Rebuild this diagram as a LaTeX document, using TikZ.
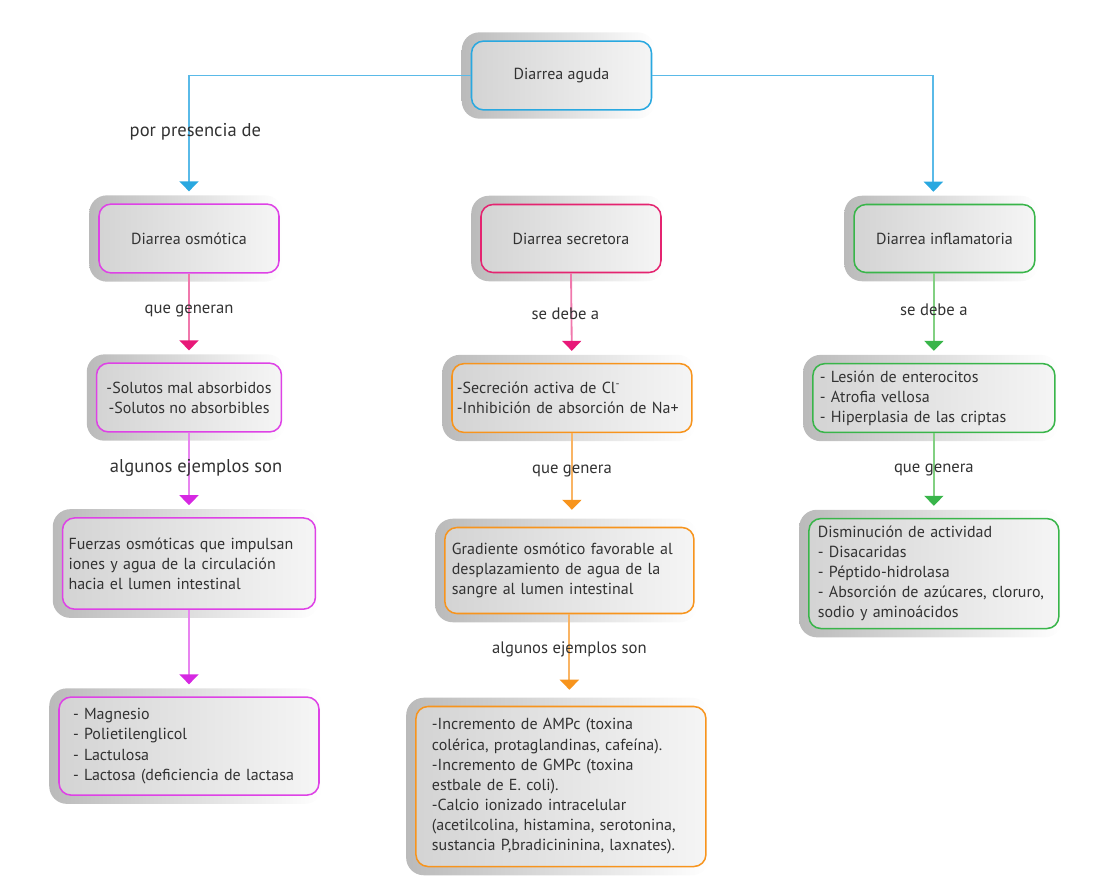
\documentclass[tikz,border=0pt]{standalone}
\usepackage{fontspec}
\setmainfont{PT Sans}
\usepackage{tikz}
\usetikzlibrary{arrows.meta,backgrounds,calc}

\definecolor{txtgray}{RGB}{50,50,50}
\definecolor{aguablue}{RGB}{41,168,224}
\definecolor{lineblue}{RGB}{90,186,232}
\definecolor{osmmag}{RGB}{222,66,230}
\definecolor{linemag}{RGB}{232,132,240}
\definecolor{tipmag}{RGB}{214,40,226}
\definecolor{secpink}{RGB}{228,36,112}
\definecolor{linepink}{RGB}{240,120,172}
\definecolor{tippink}{RGB}{232,24,120}
\definecolor{orng}{RGB}{247,148,29}
\definecolor{lineorng}{RGB}{249,180,100}
\definecolor{grn}{RGB}{57,181,74}
\definecolor{linegrn}{RGB}{130,208,130}

\tikzstyle{block} = [draw, rounded corners=7.5pt, line width=0.95pt,
    left color=black!17, right color=black!4, text=txtgray,
    font=\fontsize{10}{12.6}\selectfont, inner ysep=0pt]
\tikzstyle{shadowbox} = [rounded corners=11pt, left color=black!27, right color=white]
\tikzstyle{link} = [line width=1.15pt, shorten >=7.5pt]
\tikzstyle{lbl} = [text=txtgray, font=\fontsize{10.4}{12.6}\selectfont]
\tikzstyle{biglbl} = [text=txtgray, font=\fontsize{11.6}{13}\selectfont]
\tikzset{headto/.style={-{Triangle[width=11.9pt,length=6.25pt,color=#1]}}}

\begin{document}
\begin{tikzpicture}[x=0.625pt, y=-0.625pt]
    \useasboundingbox (0,0) rectangle (1118,893);

    % % % % % % % % % % % % % % % % % % % % % % %
    % Main boxes
    % % % % % % % % % % % % % % % % % % % % % % %
    \node [block, draw=aguablue, minimum width=112.5pt, minimum height=43pt] (aguda) at (561.5,75.5) {Diarrea aguda};

    % first row
    \node [block, draw=osmmag, minimum width=112.5pt, minimum height=43pt] (osmo) at (189,238.5) {Diarrea osmótica};
    \node [block, draw=secpink, minimum width=112.5pt, minimum height=42.5pt,
        right of=osmo, node distance=238.75pt] (secr) {Diarrea secretora};
    \node [block, draw=grn, minimum width=113pt, minimum height=42.5pt,
        right of=secr, node distance=233.4pt] (inflam) {Diarrea inflamatoria};

    % osmotic column
    \node [block, draw=osmmag, minimum width=115.6pt, minimum height=43pt, align=center,
        below of=osmo, node distance=99.4pt] (solutos)
        {-Solutos mal absorbidos\\-Solutos no absorbibles};
    \node [block, draw=osmmag, text width=150.6pt, inner xsep=3.75pt, minimum height=57pt, align=left,
        below of=solutos, node distance=103.75pt] (fuerzas)
        {Fuerzas osmóticas que impulsan\\iones y agua de la circulación\\hacia el lumen intestinal};
    \node [block, draw=osmmag, text width=145pt, inner xsep=8.75pt, minimum height=61.25pt, align=left,
        below of=fuerzas, node distance=114.1pt] (magnesio)
        {- Magnesio\\- Polietilenglicol\\- Lactulosa\\- Lactosa (deficiencia de lactasa};

    % secretory column
    \node [block, draw=orng, text width=143.75pt, inner xsep=3.1pt, minimum height=43pt, align=left,
        below of=secr, node distance=99.7pt, xshift=0.6pt] (secact)
        {-Secreción activa de Cl\textsuperscript{-}\\-Inhibición de absorción de Na+};
    \node [block, draw=orng, text width=146.9pt, inner xsep=4.4pt, minimum height=53.75pt, align=left,
        below of=secact, node distance=107.8pt, xshift=-1.6pt] (gradiente)
        {Gradiente osmótico favorable al\\desplazamiento de agua de la\\sangre al lumen intestinal};
    \node [block, draw=orng, text width=161.25pt, inner xsep=10pt, minimum height=100pt, align=left,
        below of=gradiente, node distance=135pt, xshift=-5.3pt] (ampc)
        {-Incremento de AMPc (toxina\\colérica, protaglandinas, cafeína).\\-Incremento de GMPc (toxina\\estbale de E. coli).\\-Calcio ionizado intracelular\\(acetilcolina, histamina, serotonina,\\sustancia P,bradicininina, laxnates).};

    % inflammatory column
    \node [block, draw=grn, text width=142.5pt, inner xsep=4.4pt, minimum height=43pt, align=left,
        below of=inflam, node distance=99.7pt, xshift=-6.6pt] (lesion)
        {- Lesión de enterocitos\\- Atrofia vellosa\\- Hiperplasia de las criptas};
    \node [block, draw=grn, text width=145pt, inner xsep=5.6pt, minimum height=68.75pt, align=left,
        below of=lesion, node distance=109.7pt] (dismin)
        {Disminución de actividad\\- Disacaridas\\- Péptido-hidrolasa\\- Absorción de azúcares, cloruro,\\sodio y aminoácidos};

    % grey backs behind every box
    \begin{scope}[on background layer]
    \foreach \n in {aguda,osmo,secr,inflam,solutos,fuerzas,magnesio,secact,gradiente,ampc,lesion,dismin}
        \shade [shadowbox] ($(\n.north west)+(-9,-8)$) rectangle ($(\n.south east)+(3,8)$);
    \end{scope}

    % % % % % % % % % % % % % % % % % % % % % % %
    % Connectors
    % % % % % % % % % % % % % % % % % % % % % % %
    \draw [link, lineblue, headto=aguablue] (aguda.west) -|
        node [biglbl, pos=0.72, xshift=4pt] {por presencia de} (osmo.north);
    \draw [link, lineblue, headto=aguablue] (aguda.east) -| ([xshift=-6.9pt]inflam.north);

    % osmotic column
    \draw [link, linepink, headto=tippink] (osmo.south) -- node [lbl, pos=0.42] {que generan} (solutos.north);
    \draw [link, linemag, headto=tipmag] (solutos.south) -- node [biglbl, pos=0.42, xshift=4.4pt] {algunos ejemplos son} (fuerzas.north);
    \draw [link, linemag, headto=tipmag] (fuerzas.south) -- (magnesio.north);

    % secretory column
    \draw [link, linepink, headto=tippink] (secr.south) -- node [lbl, pos=0.45, xshift=-3.75pt] {se debe a} (secact.north);
    \draw [link, lineorng, headto=orng, shorten >=10.6pt] (secact.south) -- node [lbl, pos=0.4] {que genera} (secact.south |- gradiente.north);
    \draw [link, lineorng, headto=orng, shorten >=10pt] (gradiente.south) -- node [lbl, pos=0.38] {algunos ejemplos son} (gradiente.south |- ampc.north);

    % inflammatory column
    \draw [link, linegrn, headto=grn] (lesion.north |- inflam.south) -- node [lbl, pos=0.41] {se debe a} (lesion.north);
    \draw [link, linegrn, headto=grn] (lesion.south) -- node [lbl, pos=0.44] {que genera} (dismin.north);

\end{tikzpicture}
\end{document}
